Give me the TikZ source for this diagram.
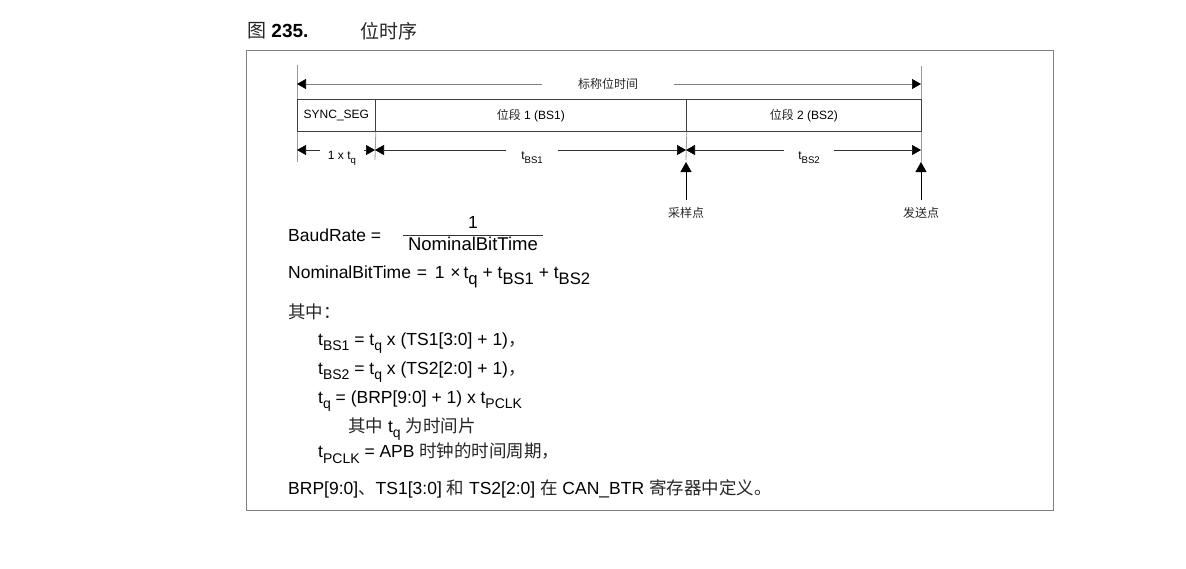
\documentclass[tikz,border=0pt]{standalone}
\usepackage{fontspec}
\setmainfont{Liberation Sans}
\newfontfamily\cjkf{Noto Sans CJK SC}
\newcommand\cjk{\cjkf\color{black!85}}
\usepackage{graphicx}
\usetikzlibrary{arrows.meta}
\newcommand\fsz[1]{\fontsize{#1}{#1}\selectfont}
\newcommand\sbx[1]{\raisebox{-0.32em}{\scalebox{0.8}{#1}}}
\newcommand\sbw[1]{\raisebox{-0.3em}{\scalebox{0.95}{#1}}}
\begin{document}
\begin{tikzpicture}[x=1pt,y=-1pt,
  lbl/.style={inner sep=0pt, font=\fsz{12}},
  ftxt/.style={anchor=west, inner sep=0pt, font=\fsz{17.5}},
  seg/.style={draw=black!75, line width=0.8pt, minimum height=32pt, inner sep=0pt, anchor=north west, font=\fsz{12}},
  dim/.style={draw=black!80, line width=0.7pt, {Triangle[length=9pt,width=10pt,color=black]}-{Triangle[length=9pt,width=10pt,color=black]}},
  guide/.style={draw=black!40, line width=0.8pt},
  up/.style={draw=black, line width=0.9pt, -{Triangle[length=10pt,width=11pt]}},
  gapl/.style={fill=white, inner ysep=5pt, font=\fsz{12}},
]
\useasboundingbox (0,0) rectangle (1186,568);
% caption
\node[anchor=west, inner sep=0pt, font=\fsz{19}] (cap) at (247,31) {{\cjk 图} \textbf{235.}};
\node[anchor=west, inner sep=0pt, font=\fsz{19}] (capt) at (360,31) {\cjk 位时序};
% frame
\node[draw=black!50, line width=0.8pt, minimum width=807pt, minimum height=460pt, anchor=north west, inner sep=0pt] (frame) at (246,50) {};
% guides
\coordinate (a0) at (297,65); \coordinate (a1) at (297,162);
\coordinate (b0) at (921,66); \coordinate (b1) at (921,162);
\draw[guide] (a0) -- (a1);
\draw[guide] (b0) -- (b1);
% segments
\node[seg, minimum width=78pt] (sync) at (297,99) {SYNC\_SEG};
\node[seg, minimum width=311pt] (bs1) at (375,99) {{\cjk 位段} 1 (BS1)};
\node[seg, minimum width=235pt] (bs2) at (686,99) {{\cjk 位段} 2 (BS2)};
\coordinate (c1) at (375,160); \coordinate (c2) at (686,160);
\draw[guide] (sync.south east) -- (c1);
\draw[guide] (bs1.south east) -- (c2);
% nominal bit time arrow
\coordinate (t0) at (297,84); \coordinate (t1) at (921,84);
\draw[dim, draw=black!50] (t0) -- (t1);
\node[gapl, inner xsep=36pt] (nom) at (608,84) {\cjk 标称位时间};
% dimension arrows
\coordinate (d0) at (297,150); \coordinate (d1) at (375,150);
\coordinate (d2) at (686,150); \coordinate (d3) at (921,150);
\draw[dim] (d0) -- (d1);
\draw[dim] (d1) -- (d2);
\draw[dim] (d2) -- (d3);
\node[gapl, inner xsep=8pt] (ltq) at (342,158) {1 x t\sbx{q}};
\node[gapl, inner xsep=15pt] (lbs1) at (532,158) {t\sbx{BS1}};
\node[gapl, inner xsep=14pt] (lbs2) at (809,158) {t\sbx{BS2}};
% sample / transmit points
\coordinate (u1s) at (686,200); \coordinate (u1e) at (686,162);
\coordinate (u2s) at (921,200); \coordinate (u2e) at (921,162);
\draw[up] (u1s) -- (u1e);
\draw[up] (u2s) -- (u2e);
\node[lbl] (samp) at (686,213) {\cjk 采样点};
\node[lbl] (send) at (921,213) {\cjk 发送点};
% formulas
\node[ftxt] (br) at (288,235) {BaudRate =};
\node[inner sep=0pt, font=\fsz{17.5}] (num) at (473,222) {1};
\node[inner sep=0pt, font=\fsz{18.5}] (den) at (473,244) {NominalBitTime};
\coordinate (f0) at (403,235); \coordinate (f1) at (543,235);
\draw[line width=0.7pt, black!80] (f0) -- (f1);
\node[ftxt] (nbt) at (288,277) {NominalBitTime\,\,=\ \,1\,\,×\,t\sbw{q} + t\sbw{BS1} + t\sbw{BS2}};
\node[ftxt] (qz) at (288,312) {\cjk 其中：};
\node[ftxt] (e1) at (318,343) {t\sbx{BS1} = t\sbx{q} x (TS1[3:0] + 1){\cjk ，}};
\node[ftxt] (e2) at (318,372) {t\sbx{BS2} = t\sbx{q} x (TS2[2:0] + 1){\cjk ，}};
\node[ftxt] (e3) at (318,401) {t\sbx{q} = (BRP[9:0] + 1) x t\sbx{PCLK}};
\node[ftxt] (e4) at (348,429) {{\cjk 其中} t\sbx{q} {\cjk 为时间片}};
\node[ftxt] (e5) at (318,453) {t\sbx{PCLK} = APB {\cjk 时钟的时间周期，}};
\node[ftxt] (e6) at (288,489) {BRP[9:0]{\cjk 、}TS1[3:0] {\cjk 和} TS2[2:0] {\cjk 在} CAN\_BTR {\cjk 寄存器中定义。}};
\end{tikzpicture}
\end{document}
